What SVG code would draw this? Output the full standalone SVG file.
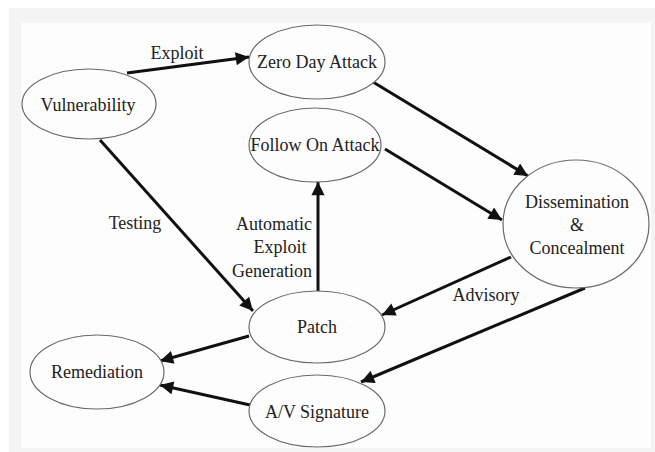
<svg xmlns="http://www.w3.org/2000/svg" width="655" height="452" viewBox="0 0 655 452">
<style>
.n ellipse{fill:#fdfdfd;stroke:#6a6a6a;stroke-width:1.2}
text{font-family:"Liberation Serif","Times New Roman",serif;font-size:18px;fill:#222;text-anchor:middle}
.e line{stroke:#111;stroke-width:3;marker-end:url(#ah)}
</style>
<defs>
<marker id="ah" viewBox="0 0 10 10" refX="10" refY="5" markerWidth="5" markerHeight="4.4" orient="auto" markerUnits="strokeWidth">
<path d="M0,0 L10,5 L0,10 z" fill="#111"/>
</marker>
</defs>
<rect x="0" y="0" width="655" height="452" fill="#ffffff"/>
<rect x="9" y="8" width="646" height="444" fill="#f4f4f4"/>
<rect x="21" y="23" width="630" height="425" fill="#fdfdfd"/>
<g class="e" id="connectors">
<line x1="127" y1="73" x2="249" y2="57"/>
<line x1="373" y1="82" x2="528" y2="176"/>
<line x1="385" y1="149" x2="502" y2="220"/>
<line x1="318" y1="292" x2="318" y2="182"/>
<line x1="100" y1="140" x2="253" y2="311"/>
<line x1="511" y1="257" x2="382" y2="315"/>
<line x1="585" y1="288" x2="361" y2="382"/>
<line x1="249" y1="336" x2="160" y2="361"/>
<line x1="250" y1="405" x2="160" y2="385"/>
</g>
<g id="labels">
<text x="177" y="59">Exploit</text>
<text x="135" y="229">Testing</text>
<text x="274" y="230">Automatic</text>
<text x="280" y="253">Exploit</text>
<text x="272" y="277">Generation</text>
<text x="486" y="301">Advisory</text>
</g>
<g class="n" id="vulnerability"><ellipse cx="89" cy="104" rx="67" ry="35"/><text x="88" y="111">Vulnerability</text></g>
<g class="n" id="zeroday"><ellipse cx="317" cy="62" rx="68" ry="37"/><text x="317" y="68">Zero Day Attack</text></g>
<g class="n" id="followon"><ellipse cx="315" cy="145" rx="66" ry="37"/><text x="315" y="151">Follow On Attack</text></g>
<g class="n" id="dissemination"><ellipse cx="576" cy="224" rx="73" ry="64"/><text x="577" y="208">Dissemination</text><text x="577" y="231">&amp;</text><text x="577" y="254">Concealment</text></g>
<g class="n" id="patch"><ellipse cx="317" cy="327" rx="68" ry="36"/><text x="317" y="333">Patch</text></g>
<g class="n" id="remediation"><ellipse cx="97" cy="372" rx="67" ry="37"/><text x="97" y="378">Remediation</text></g>
<g class="n" id="avsignature"><ellipse cx="317" cy="411" rx="68" ry="36"/><text x="317" y="418">A/V Signature</text></g>
</svg>
